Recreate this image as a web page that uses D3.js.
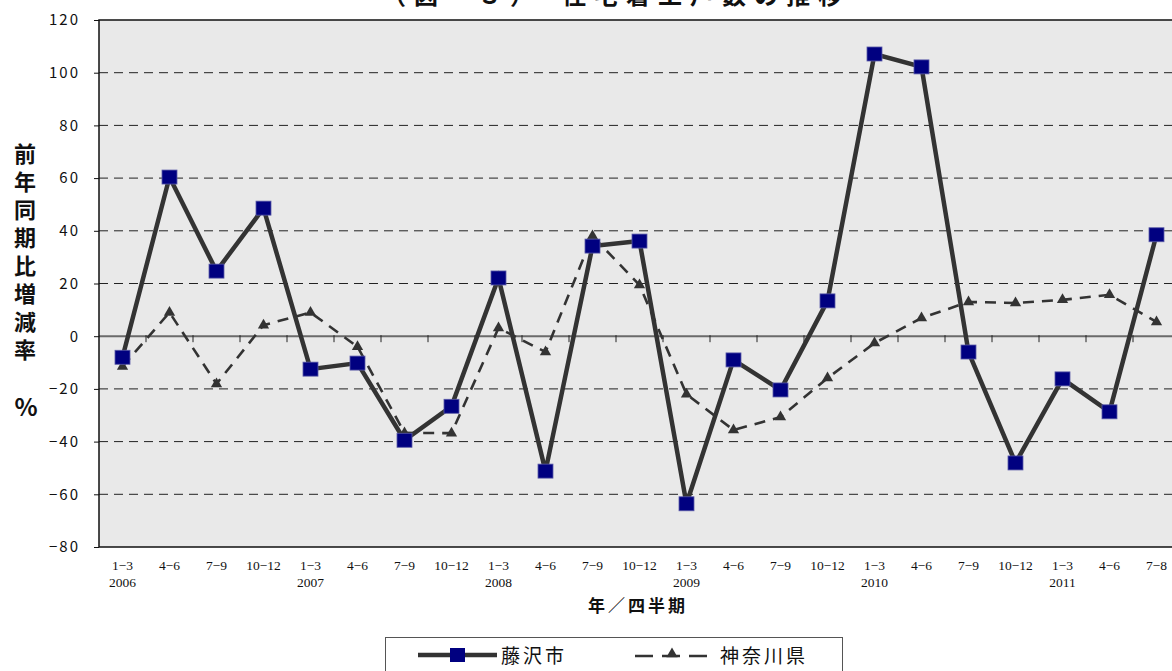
<!DOCTYPE html>
<html>
<head>
<meta charset="utf-8">
<script src="https://cdn.jsdelivr.net/npm/d3@7"></script>
<style>
  html, body { margin: 0; padding: 0; background: #fff; }
  svg { display: block; }
</style>
</head>
<body>
<svg id="chart" width="1172" height="671"></svg>
<script>
// Quarter labels and year labels
const quarters = ["1-3","4-6","7-9","10-12","1-3","4-6","7-9","10-12","1-3","4-6","7-9","10-12",
                  "1-3","4-6","7-9","10-12","1-3","4-6","7-9","10-12","1-3","4-6","7-8"];
const years = ["2006","","","","2007","","","","2008","","","","2009","","","","2010","","","","2011","",""];
// 前年同期比増減率 (%)
const fujisawa = [-8, 60.4, 24.7, 48.6, -12.5, -10.2, -39.5, -26.6, 22.1, -51.2, 34.2, 36.1,
                  -63.6, -9, -20.4, 13.4, 107.1, 102.2, -6, -48.1, -16.2, -28.7, 38.5];
const kanagawa = [-11.5, 9, -18.1, 4.2, 9, -4, -36.7, -36.8, 3.1, -6, 38, 19.4,
                  -22, -35.6, -30.7, -15.9, -2.6, 6.9, 13, 12.6, 13.8, 15.7, 5.4];
const yTicks = [-80, -60, -40, -20, 0, 20, 40, 60, 80, 100, 120];

const svg = d3.select("#chart");
const plotLeft = 99, plotTop = 20, plotBottom = 547;
const idx = d3.range(quarters.length);

const x = d3.scaleBand().domain(idx).range([plotLeft, plotLeft + 47 * quarters.length]).padding(0);
const y = d3.scaleLinear().domain([-80, 120]).range([plotBottom, plotTop]);
const cx = i => x(i) + x.bandwidth() / 2;

// plot background
svg.append("rect")
  .attr("x", plotLeft).attr("y", plotTop)
  .attr("width", x.range()[1] - plotLeft).attr("height", plotBottom - plotTop)
  .attr("fill", "#e9e9e9");

// dashed gridlines
svg.append("g").selectAll("line")
  .data(yTicks.filter(v => v !== 0 && v !== 120 && v !== -80))
  .join("line")
  .attr("x1", plotLeft).attr("x2", 1172)
  .attr("y1", d => y(d)).attr("y2", d => y(d))
  .attr("stroke", "#222").attr("stroke-width", 1)
  .attr("stroke-dasharray", "9,6");

// zero line
svg.append("line")
  .attr("x1", plotLeft).attr("x2", 1172)
  .attr("y1", y(0)).attr("y2", y(0))
  .attr("stroke", "#6a6a6a").attr("stroke-width", 2);

// category ticks on the zero line
svg.append("g").selectAll("line")
  .data(idx.slice(1))
  .join("line")
  .attr("x1", d => x(d)).attr("x2", d => x(d))
  .attr("y1", y(0) - 1).attr("y2", y(0) + 6)
  .attr("stroke", "#222").attr("stroke-width", 1);

// frame: top, left, bottom
svg.append("path")
  .attr("d", `M1172,${plotTop}H${plotLeft}V${plotBottom}H1172`)
  .attr("fill", "none").attr("stroke", "#111").attr("stroke-width", 1.5);

// y axis
const yAxis = d3.axisLeft(y).tickValues(yTicks).tickSize(5).tickPadding(14)
  .tickFormat(d => d < 0 ? "−" + Math.abs(d) : d);
const gy = svg.append("g").attr("transform", `translate(${plotLeft},0)`).call(yAxis);
gy.select(".domain").remove();
gy.selectAll(".tick line").attr("stroke", "#111");
gy.selectAll(".tick text")
  .attr("font-family", "'Noto Sans CJK JP', 'DejaVu Sans', sans-serif")
  .attr("font-size", 15).attr("fill", "#111")
  .attr("letter-spacing", "2px");

// x axis labels
const gx = svg.append("g");
gx.selectAll("text.q").data(idx).join("text")
  .attr("class", "q")
  .attr("x", d => cx(d)).attr("y", 570)
  .attr("text-anchor", "middle")
  .attr("font-family", "'Liberation Serif', 'DejaVu Serif', serif")
  .attr("font-size", 13.5).attr("fill", "#111")
  .text(d => quarters[d].replace("-", "−"));
gx.selectAll("text.yr").data(idx.filter(i => years[i])).join("text")
  .attr("class", "yr")
  .attr("x", d => cx(d)).attr("y", 587)
  .attr("text-anchor", "middle")
  .attr("font-family", "'Liberation Serif', 'DejaVu Serif', serif")
  .attr("font-size", 13.5).attr("fill", "#111")
  .text(d => years[d]);

// axis titles
svg.append("text")
  .attr("x", 638).attr("y", 612)
  .attr("text-anchor", "middle")
  .attr("font-family", "'Noto Sans CJK JP', sans-serif")
  .attr("font-size", 17).attr("font-weight", "bold").attr("fill", "#111")
  .attr("letter-spacing", "3px")
  .text("年／四半期");

svg.append("text")
  .attr("x", 25).attr("y", 143)
  .attr("font-family", "'Noto Sans CJK JP', sans-serif")
  .attr("font-size", 22).attr("font-weight", "bold").attr("fill", "#111")
  .attr("letter-spacing", "6px")
  .style("writing-mode", "vertical-rl")
  .style("glyph-orientation-vertical", "0")
  .text("前年同期比増減率");
svg.append("text")
  .attr("x", 26).attr("y", 416)
  .attr("text-anchor", "middle")
  .attr("font-family", "'Noto Sans CJK JP', sans-serif")
  .attr("font-size", 24).attr("font-weight", "bold").attr("fill", "#111")
  .text("%");

// chart title (partly above the page edge)
svg.append("text")
  .attr("x", 616).attr("y", 4)
  .attr("text-anchor", "middle")
  .attr("font-family", "'Noto Sans CJK JP', sans-serif")
  .attr("font-size", 24).attr("font-weight", "bold").attr("fill", "#111")
  .attr("letter-spacing", "8px")
  .text("（図－３）　住宅着工戸数の推移");

// 神奈川県 series: dashed line with triangles
const line = d3.line().x((d, i) => cx(i)).y(d => y(d));
svg.append("path").datum(kanagawa)
  .attr("d", line)
  .attr("fill", "none").attr("stroke", "#333").attr("stroke-width", 2.6)
  .attr("stroke-dasharray", "11,8");
const tri = d3.symbol().type(d3.symbolTriangle).size(55);
svg.append("g").selectAll("path").data(kanagawa).join("path")
  .attr("transform", (d, i) => `translate(${cx(i)},${y(d)})`)
  .attr("d", tri).attr("fill", "#333");

// 藤沢市 series: solid line with squares
svg.append("path").datum(fujisawa)
  .attr("d", line)
  .attr("fill", "none").attr("stroke", "#333").attr("stroke-width", 4.5)
  .attr("stroke-linejoin", "miter");
svg.append("g").selectAll("rect").data(fujisawa).join("rect")
  .attr("x", (d, i) => cx(i) - 7.5).attr("y", d => y(d) - 7)
  .attr("width", 15).attr("height", 14)
  .attr("fill", "#000080").attr("stroke", "#5a5aa8").attr("stroke-width", 0.8);

// legend
const lg = svg.append("g");
lg.append("rect").attr("x", 385.5).attr("y", 637.5).attr("width", 457).attr("height", 40)
  .attr("fill", "#fff").attr("stroke", "#555").attr("stroke-width", 1);
lg.append("line").attr("x1", 418).attr("x2", 497).attr("y1", 655).attr("y2", 655)
  .attr("stroke", "#333").attr("stroke-width", 4.5);
lg.append("rect").attr("x", 450).attr("y", 648).attr("width", 15).attr("height", 14)
  .attr("fill", "#000080");
lg.append("text").attr("x", 501).attr("y", 663)
  .attr("font-family", "'Noto Sans CJK JP', sans-serif").attr("font-size", 19)
  .attr("fill", "#111").attr("letter-spacing", "3px").text("藤沢市");
lg.append("line").attr("x1", 635).attr("x2", 707).attr("y1", 656).attr("y2", 656)
  .attr("stroke", "#333").attr("stroke-width", 2.6).attr("stroke-dasharray", "18,9");
lg.append("path").attr("transform", "translate(672,654)").attr("d", tri).attr("fill", "#333");
lg.append("text").attr("x", 720).attr("y", 663)
  .attr("font-family", "'Noto Sans CJK JP', sans-serif").attr("font-size", 19)
  .attr("fill", "#111").attr("letter-spacing", "3px").text("神奈川県");
</script>
</body>
</html>
